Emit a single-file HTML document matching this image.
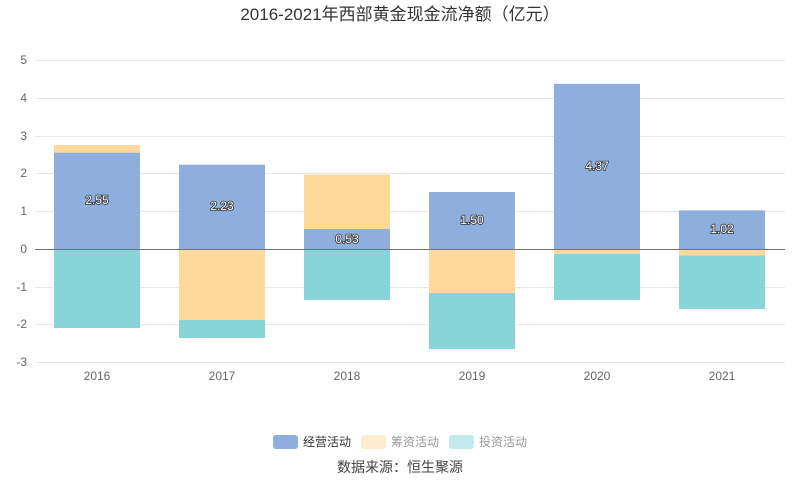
<!DOCTYPE html>
<html><head><meta charset="utf-8"><style>body{margin:0;background:#fff}svg{display:block}text{font-family:"Liberation Sans","Noto Sans CJK SC",sans-serif}</style></head><body>
<svg width="800" height="501" xmlns="http://www.w3.org/2000/svg">
<text x="400" y="20" text-anchor="middle" font-size="17" fill="#333">2016-2021年西部黄金现金流净额（亿元）</text>
<g stroke="#e6e6e6" stroke-width="1">
<line x1="35" x2="785" y1="60.5" y2="60.5"/><line x1="35" x2="785" y1="98.5" y2="98.5"/><line x1="35" x2="785" y1="136.5" y2="136.5"/><line x1="35" x2="785" y1="173.5" y2="173.5"/><line x1="35" x2="785" y1="211.5" y2="211.5"/><line x1="35" x2="785" y1="287.5" y2="287.5"/><line x1="35" x2="785" y1="324.5" y2="324.5"/><line x1="35" x2="785" y1="362.5" y2="362.5"/>
</g>
<g font-size="12" fill="#666" text-anchor="end">
<text x="27" y="64">5</text><text x="27" y="102">4</text><text x="27" y="140">3</text><text x="27" y="177">2</text><text x="27" y="215">1</text><text x="27" y="253">0</text><text x="27" y="291">-1</text><text x="27" y="328">-2</text><text x="27" y="366">-3</text>
</g>
<g>
<rect x="54" y="152.6" width="86" height="96.4" fill="#8eaedd"/><rect x="54" y="145" width="86" height="7.6" fill="#ffd89b"/><rect x="54" y="249" width="86" height="79" fill="#88d5d9"/>
<rect x="179" y="164.7" width="86" height="84.3" fill="#8eaedd"/><rect x="179" y="249" width="86" height="71" fill="#ffd89b"/><rect x="179" y="320" width="86" height="18" fill="#88d5d9"/>
<rect x="304" y="229" width="86" height="20" fill="#8eaedd"/><rect x="304" y="174.5" width="86" height="54.5" fill="#ffd89b"/><rect x="304" y="249" width="86" height="51" fill="#88d5d9"/>
<rect x="429" y="192" width="86" height="57" fill="#8eaedd"/><rect x="429" y="249" width="86" height="44" fill="#ffd89b"/><rect x="429" y="293" width="86" height="56" fill="#88d5d9"/>
<rect x="554" y="83.8" width="86" height="165.2" fill="#8eaedd"/><rect x="554" y="249" width="86" height="5" fill="#ffd89b"/><rect x="554" y="254" width="86" height="46" fill="#88d5d9"/>
<rect x="679" y="210.4" width="86" height="38.6" fill="#8eaedd"/><rect x="679" y="249" width="86" height="6.5" fill="#ffd89b"/><rect x="679" y="255.5" width="86" height="53.5" fill="#88d5d9"/>
</g>
<line x1="35" x2="785" y1="249.5" y2="249.5" stroke="#6e7079"/>
<g font-size="12" fill="#fff" stroke="#333" stroke-width="1.6" paint-order="stroke" text-anchor="middle">
<text x="97" y="204">2.55</text><text x="222" y="210">2.23</text><text x="347" y="243">0.53</text><text x="472" y="224">1.50</text><text x="597" y="170">4.37</text><text x="722" y="233">1.02</text>
</g>
<g font-size="12" fill="#666" text-anchor="middle">
<text x="97" y="380">2016</text><text x="222" y="380">2017</text><text x="347" y="380">2018</text><text x="472" y="380">2019</text><text x="597" y="380">2020</text><text x="722" y="380">2021</text>
</g>
<rect x="273" y="435" width="25" height="14" rx="3" fill="#8eaedd"/><text x="303" y="446" font-size="12" fill="#333">经营活动</text>
<rect x="361" y="435" width="25" height="14" rx="3" fill="#fdecd0"/><text x="391" y="446" font-size="12" fill="#999">筹资活动</text>
<rect x="449" y="435" width="25" height="14" rx="3" fill="#c2e9eb"/><text x="479" y="446" font-size="12" fill="#999">投资活动</text>
<text x="400" y="472" text-anchor="middle" font-size="14" fill="#444">数据来源：恒生聚源</text>
</svg>
</body></html>
